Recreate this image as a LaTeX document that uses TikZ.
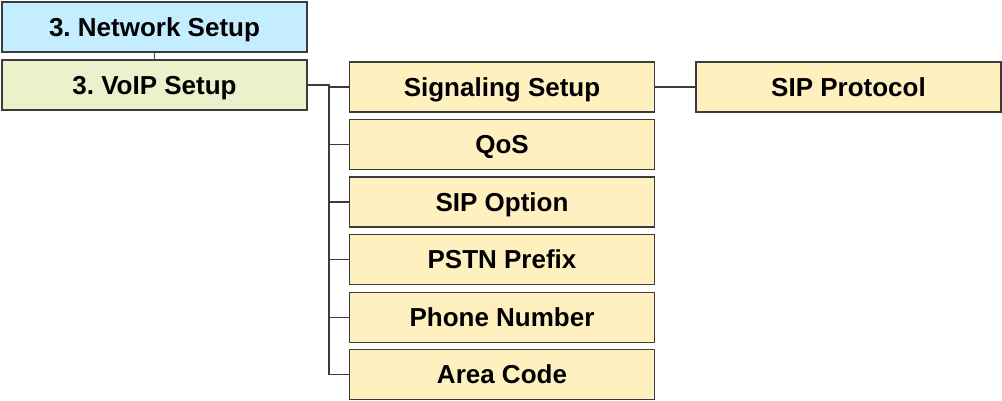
\documentclass[tikz,border=0pt]{standalone}
\usepackage{fontspec}
\setmainfont{Liberation Sans}
\usepackage{xcolor}
\definecolor{netblue}{RGB}{196,238,255}
\definecolor{voipgreen}{RGB}{236,241,204}
\definecolor{itemyellow}{RGB}{255,240,192}
\definecolor{edgegray}{RGB}{60,60,60}
\frenchspacing

\begin{document}
\begin{tikzpicture}[x=1pt,y=-1pt,
    menubox/.style={draw=edgegray, line width=1.3pt, inner sep=0pt,
      minimum width=305pt, minimum height=50pt,
      text height=18.6pt, text depth=0pt,
      font=\fontsize{26}{30}\selectfont\bfseries},
    link/.style={draw=edgegray, line width=1.2pt}]
  \useasboundingbox (0,0) rectangle (1002,401);
  % top level menu and sub menu
  \node[menubox, fill=netblue] (net) at (154.5,27) {3. Network Setup};
  \node[menubox, fill=voipgreen] (voip) at (154.5,85) {3. VoIP Setup};
  \draw[link] (net) -- (voip);
  % trunk line for the VoIP items
  \coordinate (trunk) at (329,85);
  \foreach \n/\y/\t in {sig/87/Signaling Setup, qos/144.5/QoS,
      sipopt/202/SIP Option, pstn/259.5/PSTN Prefix,
      phone/317.5/Phone Number, area/374.5/Area Code} {
    \node[menubox, fill=itemyellow] (\n) at (502,\y) {\t};
    \draw[link] (voip.east) -- (voip.east -| trunk) |- (\n.west);
  }
  % third level
  \node[menubox, fill=itemyellow] (sipproto) at (848.5,87) {SIP Protocol};
  \draw[link] (sig) -- (sipproto);
\end{tikzpicture}
\end{document}
